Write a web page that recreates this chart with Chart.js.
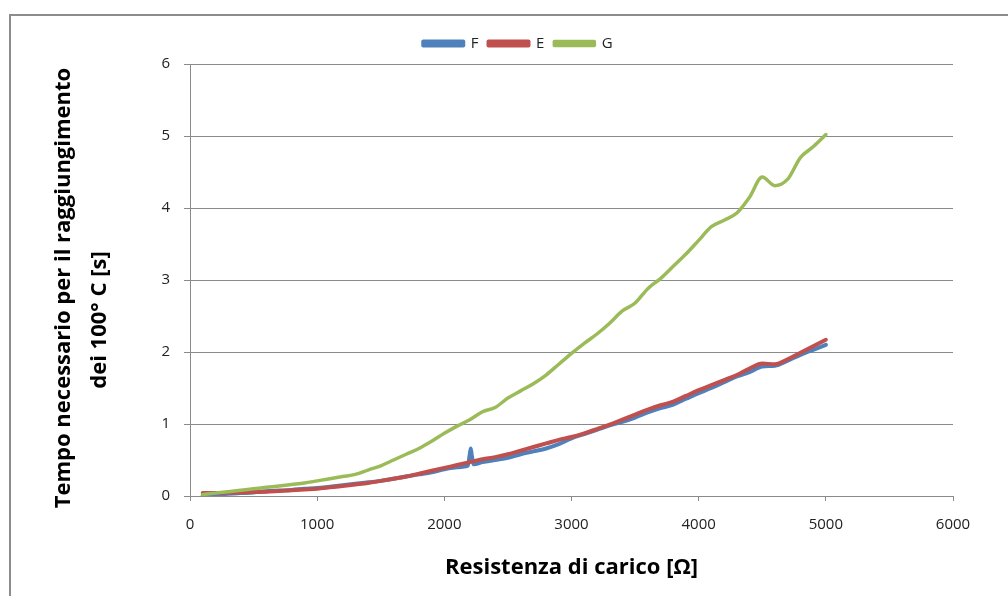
<!DOCTYPE html>
<html>
<head>
<meta charset="utf-8">
<script src="https://cdn.jsdelivr.net/npm/chart.js@4.4.1/dist/chart.umd.min.js"></script>
<style>
  html, body { margin: 0; padding: 0; background: #fff; overflow: hidden; }
  #wrap { position: relative; width: 1008px; height: 596px; }
  #frame { position: absolute; left: 9px; top: 14px; width: 1100px; height: 700px;
           border: 2px solid #8c8c8c; box-sizing: border-box; }
  canvas { position: absolute; left: 0; top: 0; }
</style>
</head>
<body>
<div id="wrap">
  <div id="frame"></div>
  <canvas id="chart" width="1008" height="596"></canvas>
</div>
<script>
// resistance values [ohm] for E and G
var resistance = [100, 200, 300, 400, 500, 600, 700, 800, 900, 1000,
  1100, 1200, 1300, 1400, 1500, 1600, 1700, 1800, 1900, 2000,
  2100, 2200, 2300, 2400, 2500, 2600, 2700, 2800, 2900, 3000,
  3100, 3200, 3300, 3400, 3500, 3600, 3700, 3800, 3900, 4000,
  4100, 4200, 4300, 4400, 4500, 4600, 4700, 4800, 4900, 5000];

var seriesE = [0.04, 0.04, 0.045, 0.05, 0.055, 0.06, 0.07, 0.08, 0.09, 0.10,
  0.12, 0.14, 0.16, 0.18, 0.21, 0.24, 0.27, 0.31, 0.35, 0.39,
  0.43, 0.47, 0.51, 0.54, 0.58, 0.63, 0.68, 0.73, 0.78, 0.82,
  0.87, 0.93, 0.99, 1.06, 1.13, 1.20, 1.26, 1.31, 1.39, 1.47,
  1.54, 1.61, 1.68, 1.77, 1.84, 1.83, 1.90, 1.99, 2.08, 2.17];

var seriesG = [0.02, 0.04, 0.06, 0.08, 0.10, 0.12, 0.14, 0.16, 0.18, 0.21,
  0.24, 0.27, 0.30, 0.36, 0.42, 0.50, 0.58, 0.66, 0.76, 0.87,
  0.97, 1.06, 1.17, 1.23, 1.36, 1.46, 1.56, 1.68, 1.83, 1.98,
  2.12, 2.25, 2.40, 2.57, 2.68, 2.88, 3.02, 3.19, 3.36, 3.55,
  3.74, 3.83, 3.93, 4.15, 4.43, 4.31, 4.40, 4.70, 4.85, 5.02];

// F has a few extra readings around the spike near 2200 ohm
var resistanceF = [100, 200, 300, 400, 500, 600, 700, 800, 900, 1000,
  1100, 1200, 1300, 1400, 1500, 1600, 1700, 1800, 1900, 2000,
  2100, 2185, 2200, 2208, 2216, 2232, 2300, 2400, 2500, 2600, 2700, 2800, 2900, 3000,
  3100, 3200, 3300, 3400, 3500, 3600, 3700, 3800, 3900, 4000,
  4100, 4200, 4300, 4400, 4500, 4600, 4700, 4800, 4900, 5000];

var seriesF = [0.01, 0.02, 0.03, 0.04, 0.05, 0.065, 0.075, 0.085, 0.10, 0.11,
  0.13, 0.15, 0.17, 0.19, 0.21, 0.24, 0.27, 0.30, 0.33, 0.37,
  0.40, 0.42, 0.58, 0.66, 0.56, 0.44, 0.47, 0.50, 0.53, 0.58, 0.62, 0.66, 0.72, 0.80,
  0.86, 0.92, 0.98, 1.03, 1.09, 1.16, 1.22, 1.27, 1.35, 1.43,
  1.50, 1.58, 1.66, 1.72, 1.80, 1.81, 1.88, 1.96, 2.03, 2.10];

var xTicks = [0, 1000, 2000, 3000, 4000, 5000, 6000];
var yTicks = [0, 1, 2, 3, 4, 5, 6];

var yTitleLines = ['Tempo necessario per il raggiungimento', 'dei 100° C [s]'];
var xTitle = 'Resistenza di carico [\u03A9]';

function pairs(xs, ys) {
  return xs.map(function (x, i) { return { x: x, y: ys[i] }; });
}

var gray = '#8a8a8a';
var tickFont = { family: 'Open Sans', size: 15 };
var titleFont = 'bold 22px "Open Sans"';

var yTitlePlugin = {
  id: 'yTitle',
  afterDraw: function (chart) {
    var ctx = chart.ctx;
    ctx.save();
    ctx.font = titleFont;
    ctx.fillStyle = '#000';
    ctx.textAlign = 'center';
    ctx.textBaseline = 'middle';
    // line centres
    var spots = [[64, 288], [100, 320]];
    yTitleLines.forEach(function (line, i) {
      ctx.save();
      ctx.translate(spots[i][0], spots[i][1]);
      ctx.rotate(-Math.PI / 2);
      ctx.fillText(line, 0, 0);
      ctx.restore();
    });
    ctx.restore();
  }
};

new Chart(document.getElementById('chart'), {
  type: 'line',
  data: {
    datasets: [
      {
        label: 'F',
        data: pairs(resistanceF, seriesF),
        borderColor: '#4F81BD',
        backgroundColor: '#4F81BD',
        borderWidth: 4,
        order: 2
      },
      {
        label: 'E',
        data: pairs(resistance, seriesE),
        borderColor: '#C0504D',
        backgroundColor: '#C0504D',
        borderWidth: 4,
        order: 1
      },
      {
        label: 'G',
        data: pairs(resistance, seriesG),
        borderColor: '#9BBB59',
        backgroundColor: '#9BBB59',
        borderWidth: 3.5,
        order: 0
      }
    ]
  },
  options: {
    responsive: false,
    animation: false,
    elements: {
      point: { radius: 0 },
      line: { cubicInterpolationMode: 'monotone', borderCapStyle: 'round', borderJoinStyle: 'round' }
    },
    layout: { padding: { left: 28, right: 0, top: 26, bottom: 0 } },
    plugins: {
      tooltip: { enabled: false },
      legend: {
        position: 'top',
        labels: {
          boxWidth: 40,
          boxHeight: 4,
          padding: 10,
          color: '#222',
          font: tickFont,
          sort: function (a, b) { return a.datasetIndex - b.datasetIndex; }
        }
      }
    },
    scales: {
      x: {
        type: 'linear',
        min: 0,
        max: 6000,
        afterBuildTicks: function (scale) {
          scale.ticks = xTicks.map(function (v) { return { value: v }; });
        },
        afterFit: function (scale) { scale.height = 100; },
        grid: { drawOnChartArea: false, drawTicks: true, tickLength: 5, color: gray },
        border: { display: true, color: gray, width: 1 },
        ticks: {
          color: '#222', padding: 15, maxRotation: 0, font: tickFont,
          callback: function (v) { return String(v); }
        },
        title: {
          display: true,
          text: xTitle,
          color: '#000',
          font: { family: 'Open Sans', size: 22, weight: 'bold' },
          padding: { top: 0, bottom: 15 }
        }
      },
      // empty spacer between legend and plot
      xTop: {
        type: 'linear',
        position: 'top',
        display: true,
        grid: { display: false },
        border: { display: false },
        ticks: { display: false },
        afterFit: function (scale) { scale.height = 3; }
      },
      y: {
        type: 'linear',
        min: 0,
        max: 6,
        afterBuildTicks: function (scale) {
          scale.ticks = yTicks.map(function (v) { return { value: v }; });
        },
        afterFit: function (scale) { scale.width = 162; },
        grid: { color: gray, tickLength: 6 },
        border: { display: true, color: gray, width: 1 },
        ticks: {
          color: '#222', padding: 14, font: tickFont,
          callback: function (v) { return String(v); }
        }
      },
      yRight: {
        type: 'linear',
        position: 'right',
        display: true,
        grid: { display: false },
        border: { display: false },
        ticks: { display: false },
        afterFit: function (scale) { scale.width = 55; }
      }
    }
  },
  plugins: [yTitlePlugin]
});
</script>
</body>
</html>
